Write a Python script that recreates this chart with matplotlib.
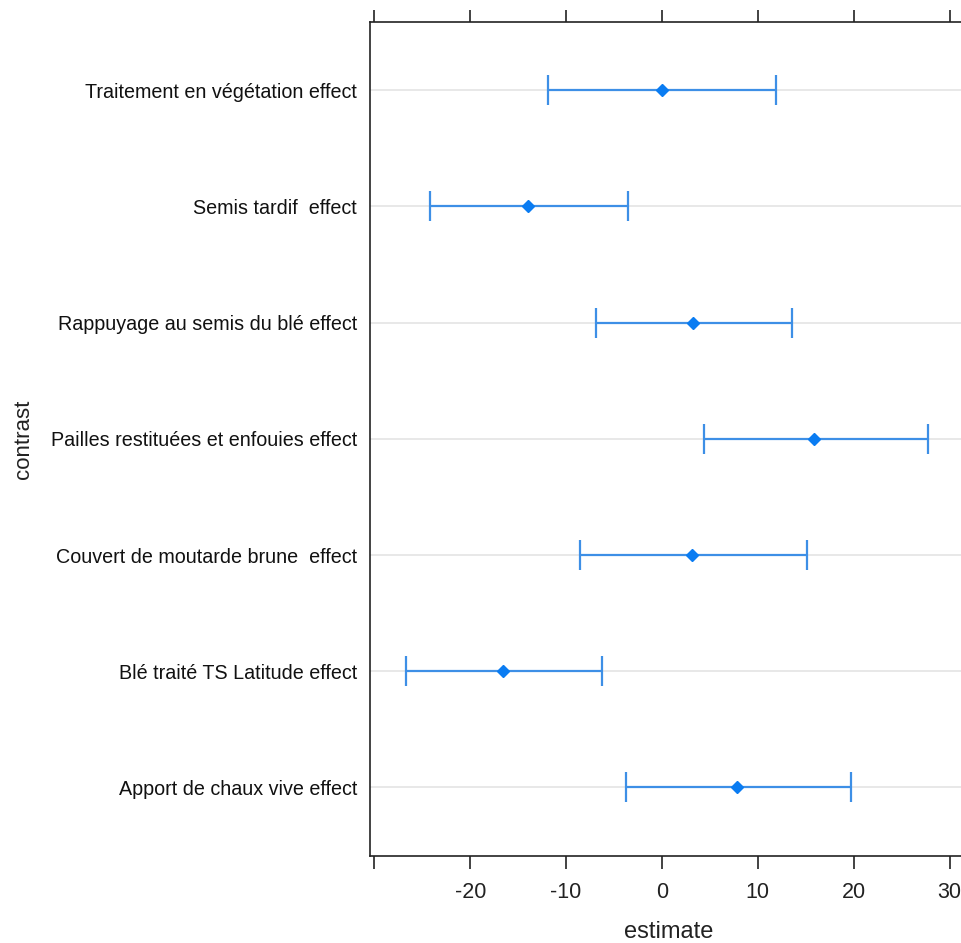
import numpy as np
import matplotlib
matplotlib.use('Agg')
import matplotlib.pyplot as plt

plt.rcParams['font.family'] = ['Liberation Sans', 'DejaVu Sans']

# contrasts, bottom to top
contrasts = ['Apport de chaux vive effect',
             'Blé traité TS Latitude effect',
             'Couvert de moutarde brune  effect',
             'Pailles restituées et enfouies effect',
             'Rappuyage au semis du blé effect',
             'Semis tardif  effect',
             'Traitement en végétation effect']
estimate = [7.85, -16.55, 3.13, 15.85, 3.23, -14.0, 0.0]
lower = [-3.72, -26.7, -8.55, 4.38, -6.9, -24.2, -11.86]
upper = [19.7, -6.23, 15.1, 27.74, 13.56, -3.58, 11.86]
xticks = [-30, -20, -10, 0, 10, 20, 30]
xticklabels = ['', '-20', '-10', '0', '10', '20', '30']

fig = plt.figure(figsize=(9.62, 9.43), dpi=100)
ax = fig.add_axes([0.3841, 0.0923, 0.623, 0.8847])

ypos = np.arange(1, len(contrasts) + 1)
est = np.array(estimate)
lo = np.array(lower)
hi = np.array(upper)

for y in ypos:
    ax.axhline(y, color='#e6e6e6', lw=1.3, zorder=0)

ax.errorbar(est, ypos, xerr=[est - lo, hi - est], fmt='none',
            ecolor='#3d8fe6', elinewidth=1.6, capsize=11, capthick=1.6, zorder=2)
ax.plot(est, ypos, 'D', color='#0a7cf2', markersize=6, zorder=3)

ax.set_xlim(-30.5, 32)
ax.set_ylim(0.41, 7.59)
ax.set_yticks(ypos)
ax.set_yticklabels(contrasts, fontsize=14.2, color='#111111')
ax.set_xticks(xticks)
ax.set_xticklabels(xticklabels, fontsize=15.5)
ax.tick_params(axis='y', length=0, pad=9)
ax.tick_params(axis='x', direction='out', length=9, width=1.2, top=True,
               bottom=True, labeltop=False, pad=10, colors='#222222')
for s in ax.spines.values():
    s.set_color('#222222')
    s.set_linewidth(1.2)

ax.set_xlabel('estimate', fontsize=17, labelpad=13, color='#222222')
ax.set_ylabel('contrast', fontsize=16, color='#222222')
ax.yaxis.set_label_coords(-0.56, 0.5)

fig.savefig('out.png', dpi=100)
